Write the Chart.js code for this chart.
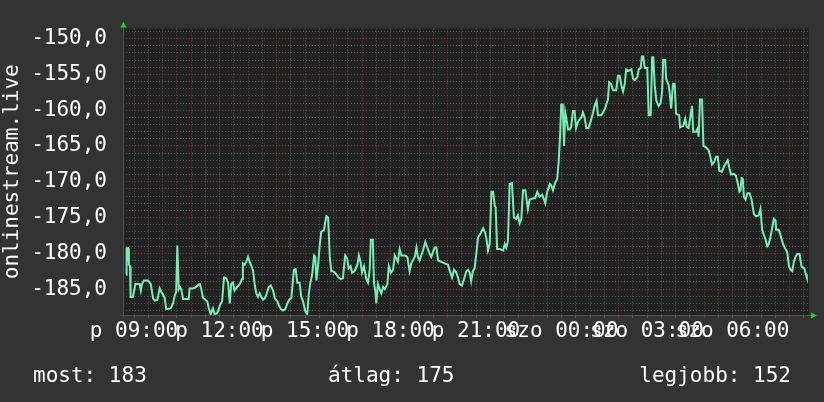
<!DOCTYPE html>
<html>
<head>
<meta charset="utf-8">
<style>
  html, body { margin: 0; padding: 0; background: #333333; }
  canvas { display: block; }
</style>
</head>
<body>
<canvas id="rrdChart" width="824" height="402"></canvas>
<script src="https://cdn.jsdelivr.net/npm/chart.js"></script>
<script>
    (() => {
        // hours since Friday 00:00 (24+ = Saturday)
        const times = [
            8.72, 8.74, 8.79, 8.82, 8.86, 8.88, 8.96, 9.05, 9.20, 9.24,
            9.28, 9.35, 9.49, 9.55, 9.59, 9.67, 9.73, 9.82, 9.90, 9.96,
            10.02, 10.08, 10.13, 10.29, 10.37, 10.43, 10.48, 10.52, 10.57, 10.61,
            10.66, 10.72, 10.92, 10.95, 11.07, 11.19, 11.25, 11.31, 11.36, 11.42,
            11.50, 11.57, 11.62, 11.69, 11.77, 11.83, 11.90, 11.95, 12.02, 12.09,
            12.16, 12.24, 12.30, 12.36, 12.41, 12.47, 12.53, 12.62, 12.71, 12.79,
            12.82, 12.88, 12.94, 13.00, 13.06, 13.12, 13.18, 13.24, 13.29, 13.35,
            13.41, 13.47, 13.53, 13.59, 13.64, 13.73, 13.80, 13.88, 13.94, 14.03,
            14.08, 14.15, 14.23, 14.31, 14.38, 14.46, 14.52, 14.61, 14.67, 14.73,
            14.81, 14.87, 14.93, 15.01, 15.08, 15.13, 15.18, 15.25, 15.32, 15.36,
            15.40, 15.46, 15.52, 15.57, 15.67, 15.71, 15.75, 15.81, 15.87, 15.92,
            15.98, 16.06, 16.16, 16.25, 16.33, 16.41, 16.48, 16.53, 16.60, 16.65,
            16.74, 16.84, 16.89, 16.95, 17.00, 17.07, 17.15, 17.21, 17.27, 17.31,
            17.38, 17.42, 17.47, 17.50, 17.56, 17.62, 17.68, 17.74, 17.80, 17.89,
            17.94, 18.01, 18.09, 18.15, 18.20, 18.26, 18.32, 18.38, 18.50, 18.59,
            18.67, 18.73, 18.85, 18.91, 18.96, 19.02, 19.08, 19.14, 19.22, 19.29,
            19.38, 19.43, 19.49, 19.55, 19.61, 19.67, 19.78, 19.90, 20.02, 20.08,
            20.16, 20.23, 20.31, 20.37, 20.43, 20.51, 20.58, 20.66, 20.72, 20.78,
            20.83, 20.89, 20.95, 21.01, 21.07, 21.16, 21.25, 21.31, 21.36, 21.42,
            21.48, 21.54, 21.60, 21.66, 21.69, 21.74, 21.83, 21.95, 22.01, 22.06,
            22.12, 22.18, 22.26, 22.33, 22.41, 22.47, 22.53, 22.59, 22.65, 22.73,
            22.82, 22.88, 23.00, 23.08, 23.15, 23.23, 23.32, 23.39, 23.43, 23.50,
            23.59, 23.64, 23.70, 23.78, 23.85, 23.90, 23.95, 23.99, 24.04, 24.09,
            24.13, 24.18, 24.23, 24.29, 24.34, 24.40, 24.46, 24.51, 24.58, 24.70,
            24.75, 24.81, 24.87, 24.95, 25.02, 25.11, 25.16, 25.23, 25.28, 25.40,
            25.46, 25.52, 25.57, 25.63, 25.67, 25.73, 25.81, 25.92, 25.98, 26.04,
            26.10, 26.16, 26.22, 26.27, 26.36, 26.45, 26.51, 26.57, 26.66, 26.71,
            26.78, 26.82, 26.87, 26.92, 27.01, 27.06, 27.13, 27.18, 27.22, 27.27,
            27.33, 27.41, 27.48, 27.53, 27.57, 27.64, 27.67, 27.76, 27.79, 27.85,
            27.91, 27.97, 28.02, 28.13, 28.16, 28.27, 28.34, 28.39, 28.46, 28.51,
            28.58, 28.62, 28.72, 28.78, 28.81, 28.86, 28.93, 28.98, 29.07, 29.16,
            29.21, 29.28, 29.36, 29.42, 29.48, 29.54, 29.63, 29.71, 29.80, 29.83,
            29.89, 29.95, 30.06, 30.12, 30.18, 30.24, 30.28, 30.32, 30.36, 30.40,
            30.46, 30.52, 30.60, 30.67, 30.75, 30.81, 30.92, 30.98, 31.04, 31.10,
            31.16, 31.22, 31.27, 31.33, 31.39, 31.45, 31.51, 31.53, 31.62, 31.68,
            31.74, 31.80, 31.86, 31.92, 31.98, 32.04, 32.10, 32.15, 32.21, 32.27,
            32.35, 32.42, 32.52, 32.58, 32.61
        ];
        const values = [
            -183.0, -179.3, -179.3, -181.6, -181.8, -186.1, -186.1, -184.3, -184.3, -185.2,
            -184.3, -183.8, -183.8, -184.1, -184.3, -186.3, -186.6, -186.5, -184.9, -185.4,
            -185.8, -186.3, -187.8, -187.7, -187.0, -185.9, -185.4, -178.9, -185.0, -184.7,
            -185.0, -186.4, -186.4, -184.9, -184.9, -184.7, -184.4, -184.3, -185.0, -186.2,
            -186.5, -186.7, -187.6, -188.5, -187.7, -188.5, -188.4, -188.1, -187.2, -186.7,
            -183.4, -183.5, -184.1, -187.0, -184.3, -184.1, -185.2, -184.7, -184.3, -183.6,
            -181.4, -181.6, -181.2, -180.5, -181.2, -181.8, -182.5, -184.5, -185.6, -186.1,
            -185.6, -186.1, -186.5, -186.3, -185.8, -184.7, -184.5, -185.2, -186.3, -186.7,
            -187.2, -187.8, -188.0, -187.8, -187.0, -186.4, -186.3, -182.3, -182.2, -184.1,
            -184.1, -186.1, -186.7, -188.1, -188.5, -185.8, -184.3, -183.0, -180.3, -180.5,
            -183.8, -181.6, -178.7, -177.0, -176.7, -175.6, -174.8, -175.0, -180.5, -182.5,
            -182.5, -182.7, -183.3, -183.6, -183.5, -180.3, -180.7, -182.1, -181.8, -182.7,
            -182.5, -181.6, -180.3, -181.2, -182.7, -181.8, -183.6, -184.1, -182.3, -178.1,
            -178.1, -184.1, -185.4, -187.0, -184.3, -185.0, -185.6, -184.7, -185.0, -184.3,
            -181.8, -182.7, -182.3, -180.3, -180.7, -181.2, -179.4, -180.3, -180.3, -180.5,
            -182.5, -181.4, -180.5, -179.2, -180.5, -181.0, -180.3, -179.6, -178.4, -179.2,
            -180.1, -180.5, -179.8, -179.2, -179.2, -181.0, -181.2, -181.4, -181.6, -182.5,
            -183.4, -182.3, -182.7, -183.4, -184.3, -184.5, -183.6, -182.5, -182.3, -182.7,
            -183.9, -182.5, -182.1, -180.1, -177.8, -177.2, -176.5, -177.0, -177.8, -179.6,
            -178.7, -171.4, -171.4, -173.4, -173.6, -179.4, -179.4, -179.6, -178.7, -179.2,
            -178.3, -170.3, -170.2, -175.0, -175.2, -174.7, -175.8, -175.2, -171.2, -171.2,
            -173.8, -172.5, -172.3, -172.3, -171.4, -172.1, -171.8, -172.5, -173.0, -171.4,
            -170.3, -170.5, -171.2, -170.1, -169.6, -167.2, -163.6, -159.2, -159.2, -165.0,
            -160.3, -161.4, -162.7, -162.7, -162.3, -160.1, -160.1, -162.5, -161.6, -161.0,
            -160.3, -161.0, -162.5, -162.5, -161.6, -160.3, -159.4, -158.7, -160.7, -160.7,
            -160.3, -159.8, -159.2, -158.5, -156.1, -156.3, -157.2, -157.2, -155.2, -155.2,
            -156.5, -157.4, -156.3, -154.3, -154.5, -154.3, -155.6, -155.8, -155.4, -154.3,
            -154.1, -152.5, -152.5, -154.1, -154.1, -160.7, -160.7, -152.6, -152.6, -156.5,
            -158.7, -159.4, -159.0, -157.4, -153.0, -153.0, -155.6, -156.5, -157.4, -159.8,
            -156.3, -156.3, -160.5, -160.7, -162.4, -162.2, -161.2, -162.3, -162.5, -161.2,
            -159.4, -163.0, -163.0, -162.5, -163.7, -158.5, -158.5, -165.0, -165.2, -165.6,
            -166.3, -167.6, -167.2, -166.5, -166.5, -168.5, -168.6, -167.8, -167.2, -167.0,
            -168.1, -169.0, -168.9, -169.2, -170.1, -171.4, -171.2, -169.5, -169.6, -172.1,
            -172.5, -171.6, -171.6, -172.5, -174.5, -174.8, -174.7, -173.8, -176.7, -177.4,
            -178.1, -179.0, -178.7, -177.8, -176.5, -175.2, -175.4, -176.7, -176.7, -177.4,
            -178.3, -179.0, -179.4, -179.8, -181.8, -182.3, -182.5, -181.2, -180.5, -180.1,
            -180.1, -181.8, -182.1, -183.0, -183.4
        ];

        const xTickHours = [9, 12, 15, 18, 21, 24, 27, 30];
        const xTickLabels = ['p 09:00', 'p 12:00', 'p 15:00', 'p 18:00', 'p 21:00',
                             'szo 00:00', 'szo 03:00', 'szo 06:00'];
        const yTickValues = [-150, -155, -160, -165, -170, -175, -180, -185];
        const yTickLabels = ['-150,0', '-155,0', '-160,0', '-165,0', '-170,0', '-175,0', '-180,0', '-185,0'];
        const seriesName = 'onlinestream.live';
        const summaryLabels = ['most: 183', 'átlag: 175', 'legjobb: 152'];

        const FONT = '"DejaVu Sans Mono", monospace';
        const OUTER_BG = '#333333';
        const PLOT_BG = '#222222';
        const MINOR = '#585858';
        const MAJOR = '#773838';
        const ARROW = '#1ed21e';

        const rrdFrame = {
            id: 'rrdFrame',
            beforeDraw(chart) {
                const {ctx, chartArea: a} = chart;
                ctx.save();
                ctx.fillStyle = OUTER_BG;
                ctx.fillRect(0, 0, chart.width, chart.height);
                ctx.fillStyle = PLOT_BG;
                ctx.fillRect(a.left, a.top, a.right - a.left, a.bottom - a.top);
                ctx.restore();
            },
            afterDraw(chart) {
                const {ctx, chartArea: a} = chart;
                ctx.save();
                // axes
                ctx.strokeStyle = '#505050';
                ctx.lineWidth = 1;
                ctx.beginPath();
                ctx.moveTo(a.left + 0.5, a.bottom + 3);
                ctx.lineTo(a.left + 0.5, a.top - 3);
                ctx.moveTo(a.left - 3, a.bottom + 0.5);
                ctx.lineTo(a.right + 3, a.bottom + 0.5);
                ctx.stroke();
                // arrows
                ctx.fillStyle = ARROW;
                ctx.beginPath();
                ctx.moveTo(a.left - 2.5, a.top - 1);
                ctx.lineTo(a.left + 3.5, a.top - 1);
                ctx.lineTo(a.left + 0.5, a.top - 7);
                ctx.closePath();
                ctx.fill();
                ctx.beginPath();
                ctx.moveTo(a.right + 2, a.bottom - 2.5);
                ctx.lineTo(a.right + 2, a.bottom + 3.5);
                ctx.lineTo(a.right + 8, a.bottom + 0.5);
                ctx.closePath();
                ctx.fill();
                // summary line
                ctx.fillStyle = '#ffffff';
                ctx.font = '21px ' + FONT;
                ctx.textBaseline = 'alphabetic';
                ctx.textAlign = 'left';
                ctx.fillText(summaryLabels[0], 33, 382);
                ctx.fillText(summaryLabels[1], 328, 382);
                ctx.textAlign = 'right';
                ctx.fillText(summaryLabels[2], 791, 382);
                ctx.restore();
            }
        };

        const ctx = document.getElementById('rrdChart').getContext('2d');
        new Chart(ctx, {
            type: 'line',
            data: {
                datasets: [{
                    label: seriesName,
                    data: times.map((t, i) => ({x: t, y: values[i]})),
                    borderColor: '#72f0b6',
                    borderWidth: 2,
                    pointRadius: 0,
                    tension: 0,
                    fill: false
                }]
            },
            options: {
                responsive: false,
                animation: false,
                devicePixelRatio: 1,
                layout: { padding: { left: 0, top: 14, right: 15, bottom: 0 } },
                plugins: {
                    legend: { display: false },
                    tooltip: { enabled: false }
                },
                scales: {
                    x: {
                        type: 'linear',
                        min: 8.614,
                        max: 32.684,
                        afterBuildTicks: (scale) => {
                            const ticks = [];
                            for (let h = 9; h <= 32.5; h += 0.5) ticks.push({value: h});
                            scale.ticks = ticks;
                        },
                        afterFit: (scale) => { scale.height = 87; },
                        grid: {
                            color: (c) => (c.tick && c.tick.value % 3 === 2) ? MAJOR : MINOR,
                            lineWidth: 1,
                            tickLength: 3
                        },
                        border: { display: false, dash: [1, 2] },
                        ticks: {
                            autoSkip: false,
                            maxRotation: 0,
                            minRotation: 0,
                            padding: 1,
                            color: '#ffffff',
                            font: { family: FONT, size: 21 },
                            callback: (v) => {
                                const i = xTickHours.indexOf(v);
                                return i >= 0 ? xTickLabels[i] : '';
                            }
                        }
                    },
                    y: {
                        min: -188.62,
                        max: -148.6,
                        afterBuildTicks: (scale) => {
                            const ticks = [];
                            for (let v = -188; v <= -149; v++) ticks.push({value: v});
                            scale.ticks = ticks;
                        },
                        afterFit: (scale) => { scale.width = 123; },
                        grid: {
                            color: (c) => (c.tick && c.tick.value % 5 === 0) ? MAJOR : MINOR,
                            lineWidth: 1,
                            drawTicks: false
                        },
                        border: { display: false, dash: [1, 2] },
                        title: {
                            display: true,
                            text: seriesName,
                            color: '#ffffff',
                            font: { family: FONT, size: 21 },
                            padding: 0
                        },
                        ticks: {
                            autoSkip: false,
                            padding: 16,
                            color: '#ffffff',
                            font: { family: FONT, size: 21 },
                            callback: (v) => {
                                const i = yTickValues.indexOf(v);
                                return i >= 0 ? yTickLabels[i] : '';
                            }
                        }
                    }
                }
            },
            plugins: [rrdFrame]
        });
    })();
</script>
</body>
</html>
